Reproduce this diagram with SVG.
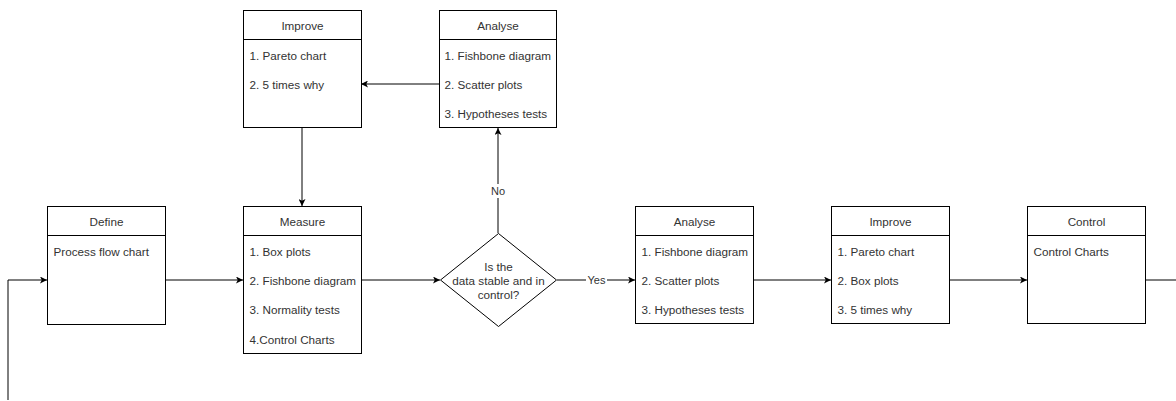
<svg xmlns="http://www.w3.org/2000/svg" width="1176" height="401" viewBox="0 0 1176 401">
  <defs>
    <marker id="arrow" viewBox="0 0 10 10" refX="10" refY="5" markerWidth="7" markerHeight="7" markerUnits="userSpaceOnUse" orient="auto">
      <path d="M0,0 L10,5 L0,10 L2.5,5 Z" fill="#000"/>
    </marker>
  </defs>
  <style>
    .box { fill: #fff; stroke: #000; stroke-width: 1; }
    .sep { stroke: #000; stroke-width: 1; }
    .title { font-family: "Liberation Sans", Arial, sans-serif; font-size: 11.7px; fill: #333; text-anchor: middle; dominant-baseline: central; }
    .item { font-family: "Liberation Sans", Arial, sans-serif; font-size: 11.7px; fill: #333; dominant-baseline: central; }
    .cond { font-family: "Liberation Sans", Arial, sans-serif; font-size: 11.7px; fill: #333; text-anchor: middle; dominant-baseline: central; }
    .lbl { font-family: "Liberation Sans", Arial, sans-serif; font-size: 11px; fill: #333; text-anchor: middle; dominant-baseline: central; }
    .edge { fill: none; stroke: #000; stroke-width: 1; }
  </style>

  <rect width="1176" height="401" fill="#fff"/>

  <!-- connectors -->
  <g id="connectors">
    <path class="edge" d="M8,400 V280 H47" marker-end="url(#arrow)"/>
    <path class="edge" d="M165,280 H243" marker-end="url(#arrow)"/>
    <path class="edge" d="M361,280 H440" marker-end="url(#arrow)"/>
    <path class="edge" d="M302,128 V206" marker-end="url(#arrow)"/>
    <path class="edge" d="M439,84 H361" marker-end="url(#arrow)"/>
    <path class="edge" d="M498,233 V128" marker-end="url(#arrow)"/>
    <path class="edge" d="M557,280 H635" marker-end="url(#arrow)"/>
    <path class="edge" d="M753,280 H831" marker-end="url(#arrow)"/>
    <path class="edge" d="M949,280 H1027" marker-end="url(#arrow)"/>
    <path class="edge" d="M1145,280 H1176"/>
    <rect x="489" y="184" width="18" height="14" fill="#fff"/>
    <text class="lbl" x="498" y="191">No</text>
    <rect x="586" y="273" width="21" height="14" fill="#fff"/>
    <text class="lbl" x="596.5" y="280">Yes</text>
  </g>

  <!-- Define -->
  <g id="define">
    <rect class="box" x="47.5" y="206.5" width="118" height="118"/>
    <line class="sep" x1="47.5" y1="235.5" x2="165.5" y2="235.5"/>
    <text class="title" x="106.5" y="221">Define</text>
    <text class="item" x="53.5" y="251">Process flow chart</text>
  </g>

  <!-- Measure -->
  <g id="measure">
    <rect class="box" x="243.5" y="206.5" width="118" height="147"/>
    <line class="sep" x1="243.5" y1="235.5" x2="361.5" y2="235.5"/>
    <text class="title" x="302.5" y="221">Measure</text>
    <text class="item" x="249.5" y="251">1. Box plots</text>
    <text class="item" x="249.5" y="280">2. Fishbone diagram</text>
    <text class="item" x="249.5" y="309">3. Normality tests</text>
    <text class="item" x="249.5" y="339">4.Control Charts</text>
  </g>

  <!-- Improve (upper loop) -->
  <g id="improve-loop">
    <rect class="box" x="243.5" y="10.5" width="118" height="117"/>
    <line class="sep" x1="243.5" y1="39.5" x2="361.5" y2="39.5"/>
    <text class="title" x="302.5" y="25">Improve</text>
    <text class="item" x="249.5" y="55">1. Pareto chart</text>
    <text class="item" x="249.5" y="84">2. 5 times why</text>
  </g>

  <!-- Analyse (upper loop) -->
  <g id="analyse-loop">
    <rect class="box" x="439.5" y="10.5" width="117" height="117"/>
    <line class="sep" x1="439.5" y1="39.5" x2="556.5" y2="39.5"/>
    <text class="title" x="498" y="25">Analyse</text>
    <text class="item" x="444.5" y="55">1. Fishbone diagram</text>
    <text class="item" x="444.5" y="84">2. Scatter plots</text>
    <text class="item" x="444.5" y="113">3. Hypotheses tests</text>
  </g>

  <!-- Decision -->
  <g id="decision">
    <path class="box" d="M498.5,233.5 L556.5,280 L498.5,326.5 L440.5,280 Z"/>
    <text class="cond" x="498.5" y="266">Is the</text>
    <text class="cond" x="498.5" y="280">data stable and in</text>
    <text class="cond" x="498.5" y="294">control?</text>
  </g>

  <!-- Analyse -->
  <g id="analyse">
    <rect class="box" x="635.5" y="206.5" width="118" height="117"/>
    <line class="sep" x1="635.5" y1="235.5" x2="753.5" y2="235.5"/>
    <text class="title" x="694.5" y="221">Analyse</text>
    <text class="item" x="641.5" y="251">1. Fishbone diagram</text>
    <text class="item" x="641.5" y="280">2. Scatter plots</text>
    <text class="item" x="641.5" y="309">3. Hypotheses tests</text>
  </g>

  <!-- Improve -->
  <g id="improve">
    <rect class="box" x="831.5" y="206.5" width="118" height="117"/>
    <line class="sep" x1="831.5" y1="235.5" x2="949.5" y2="235.5"/>
    <text class="title" x="890.5" y="221">Improve</text>
    <text class="item" x="837.5" y="251">1. Pareto chart</text>
    <text class="item" x="837.5" y="280">2. Box plots</text>
    <text class="item" x="837.5" y="309">3. 5 times why</text>
  </g>

  <!-- Control -->
  <g id="control">
    <rect class="box" x="1027.5" y="206.5" width="118" height="117"/>
    <line class="sep" x1="1027.5" y1="235.5" x2="1145.5" y2="235.5"/>
    <text class="title" x="1086.5" y="221">Control</text>
    <text class="item" x="1033.5" y="251">Control Charts</text>
  </g>
</svg>
